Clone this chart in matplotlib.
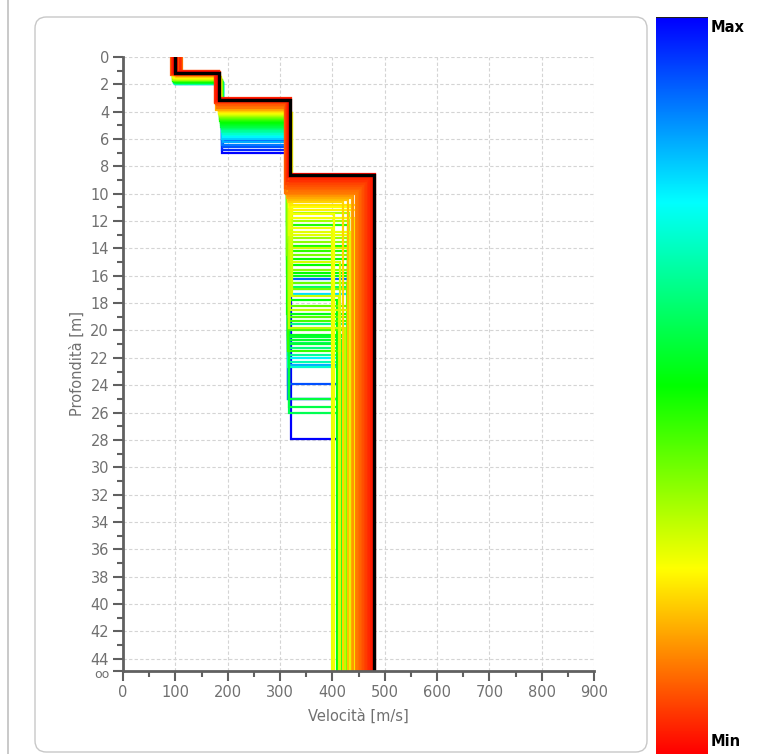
import numpy as np
import matplotlib.pyplot as plt
import matplotlib.transforms as mtransforms
from matplotlib.colors import LinearSegmentedColormap
from matplotlib.patches import FancyBboxPatch
from matplotlib.lines import Line2D

# best model (drawn in black on top)
best_v = [100, 183, 320, 480]
best_z = [1.15, 3.15, 8.6]

# tested models: misfit (0 = min, 1 = max), layer velocities and bottom depths
misfit = [0.01, 0.02, 0.03, 0.04, 0.05, 0.06, 0.07, 0.08, 0.09, 0.10,
          0.11, 0.12, 0.13, 0.15, 0.17, 0.19, 0.21, 0.23, 0.25, 0.26,
          0.27, 0.28, 0.29, 0.30, 0.31, 0.32, 0.34, 0.36, 0.38, 0.40,
          0.42, 0.44, 0.45, 0.47, 0.48, 0.49, 0.50, 0.51, 0.52, 0.53,
          0.54, 0.55, 0.56, 0.57, 0.58, 0.60, 0.63, 0.65, 0.67, 0.70,
          0.73, 0.76, 0.80, 0.83, 0.88, 0.92, 0.96, 1.00, 0.90, 0.78,
          0.24, 0.26, 0.28, 0.30, 0.33, 0.35, 0.37, 0.39, 0.41, 0.43,
          0.46, 0.50, 0.52, 0.55, 0.59, 0.62]
v1 = [98, 104, 95, 108, 93, 110, 100, 96, 106, 91,
      112, 99, 102, 97, 103, 94, 101, 105, 99, 96,
      108, 102, 95, 104, 100, 97, 103, 98, 106, 101,
      95, 104, 99, 102, 97, 105, 100, 96, 103, 99,
      106, 101, 98, 104, 100, 102, 97, 105, 100, 103,
      99, 104, 101, 98, 102, 99, 103, 100, 101, 98,
      101, 97, 105, 99, 102, 96, 104, 100, 98, 103,
      101, 97, 105, 99, 102, 100]
z1 = [1.10, 1.15, 1.20, 1.05, 1.25, 1.10, 1.30, 1.20, 1.15, 1.30,
      1.05, 1.25, 1.35, 1.30, 1.40, 1.35, 1.45, 1.40, 1.50, 1.45,
      1.50, 1.55, 1.50, 1.60, 1.55, 1.60, 1.60, 1.65, 1.60, 1.70,
      1.65, 1.70, 1.75, 1.70, 1.75, 1.70, 1.80, 1.75, 1.80, 1.85,
      1.80, 1.85, 1.80, 1.90, 1.85, 1.90, 1.85, 1.90, 1.95, 1.90,
      1.95, 1.90, 1.95, 1.90, 1.85, 1.90, 1.85, 1.90, 1.95, 1.90,
      1.45, 1.50, 1.55, 1.55, 1.60, 1.65, 1.60, 1.70, 1.65, 1.70,
      1.75, 1.80, 1.75, 1.85, 1.85, 1.90]
v2 = [182, 180, 178, 184, 176, 186, 175, 181, 179, 177,
      183, 180, 182, 184, 178, 185, 183, 186, 184, 187,
      185, 183, 186, 188, 185, 187, 186, 188, 185, 187,
      189, 186, 188, 187, 189, 186, 188, 190, 187, 189,
      188, 190, 189, 188, 190, 189, 190, 191, 190, 192,
      191, 192, 190, 191, 190, 191, 189, 190, 190, 191,
      185, 186, 184, 187, 186, 188, 185, 187, 189, 186,
      188, 189, 187, 190, 189, 190]
z2 = [3.05, 3.10, 3.20, 3.00, 3.30, 3.15, 3.40, 3.35, 3.50, 3.45,
      3.60, 3.70, 3.65, 3.75, 3.85, 3.90, 3.95, 4.00, 4.05, 4.10,
      4.00, 4.15, 4.20, 4.10, 4.25, 4.20, 4.30, 4.35, 4.40, 4.45,
      4.40, 4.50, 4.55, 4.60, 4.65, 4.70, 4.75, 4.80, 4.85, 4.90,
      4.95, 5.00, 5.05, 5.10, 5.15, 5.20, 5.30, 5.40, 5.50, 5.60,
      5.70, 5.85, 6.00, 6.25, 6.40, 6.60, 6.80, 7.00, 6.10, 5.80,
      4.00, 4.05, 4.10, 4.15, 4.25, 4.30, 4.35, 4.40, 4.45, 4.50,
      4.60, 4.70, 4.80, 4.90, 5.10, 5.25]
v3 = [320, 318, 316, 321, 314, 319, 312, 315, 310, 313,
      317, 309, 311, 316, 314, 318, 315, 320, 318, 322,
      319, 317, 321, 323, 320, 318, 316, 315, 314, 316,
      315, 317, 315, 314, 315, 314, 316, 315, 314, 316,
      315, 317, 318, 317, 318, 316, 315, 316, 317, 316,
      315, 316, 315, 317, 316, 315, 316, 321, 315, 316,
      319, 321, 318, 320, 317, 316, 318, 315, 316, 317,
      315, 314, 316, 315, 316, 315]
z3 = [8.55, 8.68, 8.80, 8.92, 9.05, 9.17, 9.30, 9.42, 9.55, 9.68,
      9.80, 9.93, 10.05, 10.2, 10.3, 10.45, 10.6, 10.8, 11.0, 11.5,
      12.5, 13.0, 15.0, 17.5, 18.5, 19.8, 12.0, 13.5, 14.5, 16.5,
      19.0, 20.0, 21.5, 12.3, 13.8, 14.8, 15.2, 17.8, 18.8, 20.3,
      20.7, 21.0, 25.0, 25.6, 26.0, 16.8, 19.5, 21.8, 22.3, 22.7,
      16.5, 22.0, 17.0, 22.5, 25.0, 23.9, 25.0, 27.9, 16.2, 17.3,
      11.2, 11.8, 12.8, 14.0, 11.4, 13.2, 15.6, 17.0, 18.2, 19.3,
      14.2, 15.8, 16.0, 20.5, 20.9, 21.3]
v4 = [482, 477, 474, 471, 468, 465, 462, 459, 456, 453,
      450, 447, 445, 440, 437, 430, 421, 448, 437, 403,
      400, 433, 415, 412, 440, 425, 432, 430, 432, 428,
      430, 432, 431, 430, 432, 430, 431, 409, 432, 430,
      416, 432, 431, 430, 422, 430, 445, 431, 430, 432,
      432, 430, 431, 432, 430, 432, 430, 432, 431, 430,
      446, 442, 435, 438, 432, 430, 431, 432, 430, 431,
      432, 430, 431, 432, 430, 431]

z_max = 44.9
x_ticks = list(range(0, 1000, 100))
y_ticks = list(range(0, 46, 2))

cmap = LinearSegmentedColormap.from_list(
    "misfit", ["#ff0000", "#ffff00", "#00ff00", "#00ffff", "#0000ff"])


def step_profile(v, z):
    xs, ys = [], []
    tops = [0] + list(z)
    bots = list(z) + [z_max]
    for vel, top, bot in zip(v, tops, bots):
        xs += [vel, vel]
        ys += [top, bot]
    return xs, ys


fig = plt.figure(figsize=(7.6, 7.54), dpi=100)

# frame around the plot panel and left rule
fig.add_artist(FancyBboxPatch((35 / 760, 1 - 752 / 754), 612 / 760, 735 / 754,
                              boxstyle="round,pad=0,rounding_size=0.015",
                              transform=fig.transFigure, facecolor="none",
                              edgecolor="#c8c8c8", linewidth=1.0, zorder=-1))
fig.add_artist(Line2D([8 / 760, 8 / 760], [0, 1], transform=fig.transFigure,
                      color="#c0c0c0", linewidth=1.2, zorder=-1))

ax = fig.add_axes([123 / 760, 1 - 671 / 754, 471 / 760, 614 / 754])
ax.set_facecolor("none")

order = np.argsort(misfit)[::-1]
for i in order:
    xs, ys = step_profile([v1[i], v2[i], v3[i], v4[i]], [z1[i], z2[i], z3[i]])
    ax.plot(xs, ys, color=cmap(misfit[i]), linewidth=1.6, solid_joinstyle="miter")

xs, ys = step_profile(best_v, best_z)
ax.plot(xs, ys, color="black", linewidth=2.4, solid_joinstyle="miter")

ax.set_xlim(0, 900)
ax.set_ylim(z_max, 0)
ax.set_xticks(x_ticks)
ax.set_xticks(range(50, 900, 100), minor=True)
ax.set_yticks(y_ticks + [z_max])
ax.set_yticklabels([str(t) for t in y_ticks] + ["oo"])
ax.set_yticks(range(1, 45, 2), minor=True)

tick_col = "#707070"
ax.tick_params(which="major", length=7, width=1.5, color="#606060",
               labelcolor=tick_col, labelsize=10.5, pad=3)
ax.tick_params(which="minor", length=4, width=1.5, color="#606060")
for s in ("top", "right"):
    ax.spines[s].set_visible(False)
for s in ("left", "bottom"):
    ax.spines[s].set_color("#606060")
    ax.spines[s].set_linewidth(2)

# the infinity label sits just under "44"
inf_lbl = ax.get_yticklabels()[-1]
inf_lbl.set_fontsize(9)
inf_lbl.set_transform(inf_lbl.get_transform() +
                      mtransforms.ScaledTranslation(0, -2 / 100, fig.dpi_scale_trans))

ax.grid(True, which="major", color="#d4d4d4", linestyle=(0, (3, 2)), linewidth=0.8)
ax.set_axisbelow(True)

ax.set_xlabel("Velocità [m/s]", color=tick_col, fontsize=10.5, labelpad=6)
ax.set_ylabel("Profondità [m]", color=tick_col, fontsize=10.5, labelpad=4)

# colour scale from min (bottom) to max (top)
cax = fig.add_axes([656 / 760, 0, 52 / 760, 737 / 754])
grad = np.linspace(0, 1, 256).reshape(-1, 1)
cax.imshow(grad, cmap=cmap, aspect="auto", origin="lower", extent=[0, 1, 0, 1])
cax.axhline(1, color="#202020", linewidth=1.5)
cax.set_axis_off()

fig.text(711 / 760, 1 - 27 / 754, "Max", fontsize=10.5, fontweight="bold",
         color="black", ha="left", va="center")
fig.text(711 / 760, 1 - 742 / 754, "Min", fontsize=10.5, fontweight="bold",
         color="black", ha="left", va="center")

fig.savefig("out.png", dpi=100)
